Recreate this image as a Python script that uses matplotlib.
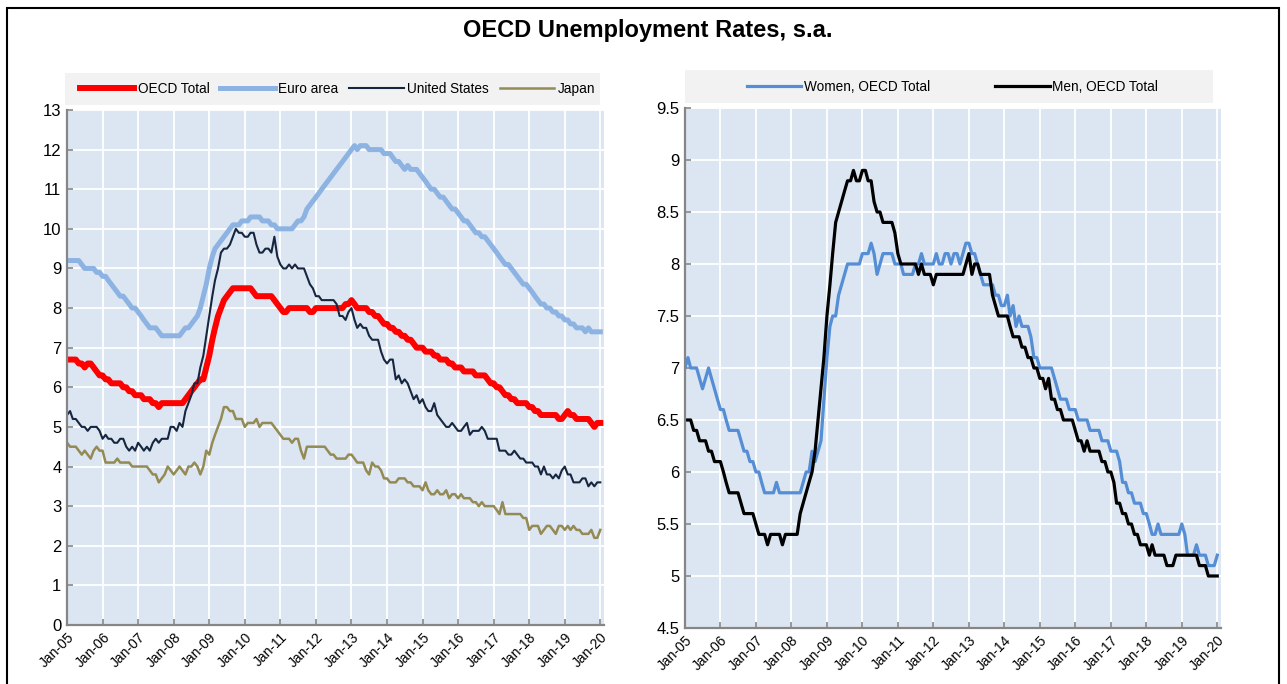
import numpy as np
import pandas as pd
import matplotlib
matplotlib.use("Agg")
import matplotlib.pyplot as plt
import matplotlib.dates as mdates
from matplotlib.patches import Rectangle

# --- data: monthly, Jan-05 .. Jan-20 ---
oecd_total = [
    6.7, 6.7, 6.7, 6.7, 6.6, 6.6, 6.5, 6.6, 6.6, 6.5, 6.4, 6.3,
    6.3, 6.2, 6.2, 6.1, 6.1, 6.1, 6.1, 6.0, 6.0, 5.9, 5.9, 5.8,
    5.8, 5.8, 5.7, 5.7, 5.7, 5.6, 5.6, 5.5, 5.6, 5.6, 5.6, 5.6,
    5.6, 5.6, 5.6, 5.6, 5.7, 5.8, 5.9, 6.0, 6.1, 6.2, 6.2, 6.5,
    6.8, 7.2, 7.5, 7.8, 8.0, 8.2, 8.3, 8.4, 8.5, 8.5, 8.5, 8.5,
    8.5, 8.5, 8.5, 8.4, 8.3, 8.3, 8.3, 8.3, 8.3, 8.3, 8.2, 8.1,
    8.0, 7.9, 7.9, 8.0, 8.0, 8.0, 8.0, 8.0, 8.0, 8.0, 7.9, 7.9,
    8.0, 8.0, 8.0, 8.0, 8.0, 8.0, 8.0, 8.0, 8.0, 8.0, 8.1, 8.1,
    8.2, 8.1, 8.0, 8.0, 8.0, 8.0, 7.9, 7.9, 7.8, 7.8, 7.7, 7.6,
    7.6, 7.5, 7.5, 7.4, 7.4, 7.3, 7.3, 7.2, 7.2, 7.1, 7.0, 7.0,
    7.0, 6.9, 6.9, 6.9, 6.8, 6.8, 6.7, 6.7, 6.7, 6.6, 6.6, 6.5,
    6.5, 6.5, 6.4, 6.4, 6.4, 6.4, 6.3, 6.3, 6.3, 6.3, 6.2, 6.1,
    6.1, 6.0, 6.0, 5.9, 5.8, 5.8, 5.7, 5.7, 5.6, 5.6, 5.6, 5.6,
    5.5, 5.5, 5.4, 5.4, 5.3, 5.3, 5.3, 5.3, 5.3, 5.3, 5.2, 5.2,
    5.3, 5.4, 5.3, 5.3, 5.2, 5.2, 5.2, 5.2, 5.2, 5.1, 5.0, 5.1,
    5.1,
]
euro_area = [
    9.2, 9.2, 9.2, 9.2, 9.2, 9.1, 9.0, 9.0, 9.0, 9.0, 8.9, 8.9,
    8.8, 8.8, 8.7, 8.6, 8.5, 8.4, 8.3, 8.3, 8.2, 8.1, 8.0, 8.0,
    7.9, 7.8, 7.7, 7.6, 7.5, 7.5, 7.5, 7.4, 7.3, 7.3, 7.3, 7.3,
    7.3, 7.3, 7.3, 7.4, 7.5, 7.5, 7.6, 7.7, 7.8, 8.0, 8.3, 8.6,
    9.0, 9.3, 9.5, 9.6, 9.7, 9.8, 9.9, 10.0, 10.1, 10.1, 10.1, 10.2,
    10.2, 10.2, 10.3, 10.3, 10.3, 10.3, 10.2, 10.2, 10.2, 10.1, 10.1, 10.0,
    10.0, 10.0, 10.0, 10.0, 10.0, 10.1, 10.2, 10.2, 10.3, 10.5, 10.6, 10.7,
    10.8, 10.9, 11.0, 11.1, 11.2, 11.3, 11.4, 11.5, 11.6, 11.7, 11.8, 11.9,
    12.0, 12.1, 12.0, 12.1, 12.1, 12.1, 12.0, 12.0, 12.0, 12.0, 12.0, 11.9,
    11.9, 11.9, 11.8, 11.7, 11.7, 11.6, 11.5, 11.6, 11.5, 11.5, 11.5, 11.4,
    11.3, 11.2, 11.1, 11.0, 11.0, 10.9, 10.8, 10.8, 10.7, 10.6, 10.5, 10.5,
    10.4, 10.3, 10.2, 10.2, 10.1, 10.0, 9.9, 9.9, 9.8, 9.8, 9.7, 9.6,
    9.5, 9.4, 9.3, 9.2, 9.1, 9.1, 9.0, 8.9, 8.8, 8.7, 8.6, 8.6,
    8.5, 8.4, 8.3, 8.2, 8.1, 8.1, 8.0, 8.0, 7.9, 7.9, 7.8, 7.8,
    7.7, 7.7, 7.6, 7.6, 7.5, 7.5, 7.5, 7.4, 7.5, 7.4, 7.4, 7.4,
    7.4,
]
united_states = [
    5.3, 5.4, 5.2, 5.2, 5.1, 5.0, 5.0, 4.9, 5.0, 5.0, 5.0, 4.9,
    4.7, 4.8, 4.7, 4.7, 4.6, 4.6, 4.7, 4.7, 4.5, 4.4, 4.5, 4.4,
    4.6, 4.5, 4.4, 4.5, 4.4, 4.6, 4.7, 4.6, 4.7, 4.7, 4.7, 5.0,
    5.0, 4.9, 5.1, 5.0, 5.4, 5.6, 5.8, 6.1, 6.1, 6.5, 6.8, 7.3,
    7.8, 8.3, 8.7, 9.0, 9.4, 9.5, 9.5, 9.6, 9.8, 10.0, 9.9, 9.9,
    9.8, 9.8, 9.9, 9.9, 9.6, 9.4, 9.4, 9.5, 9.5, 9.4, 9.8, 9.3,
    9.1, 9.0, 9.0, 9.1, 9.0, 9.1, 9.0, 9.0, 9.0, 8.8, 8.6, 8.5,
    8.3, 8.3, 8.2, 8.2, 8.2, 8.2, 8.2, 8.1, 7.8, 7.8, 7.7, 7.9,
    8.0, 7.7, 7.5, 7.6, 7.5, 7.5, 7.3, 7.2, 7.2, 7.2, 6.9, 6.7,
    6.6, 6.7, 6.7, 6.2, 6.3, 6.1, 6.2, 6.1, 5.9, 5.7, 5.8, 5.6,
    5.7, 5.5, 5.4, 5.4, 5.6, 5.3, 5.2, 5.1, 5.0, 5.0, 5.1, 5.0,
    4.9, 4.9, 5.0, 5.1, 4.8, 4.9, 4.9, 4.9, 5.0, 4.9, 4.7, 4.7,
    4.7, 4.7, 4.4, 4.4, 4.4, 4.3, 4.3, 4.4, 4.3, 4.2, 4.2, 4.1,
    4.1, 4.1, 4.0, 4.0, 3.8, 4.0, 3.8, 3.8, 3.7, 3.8, 3.7, 3.9,
    4.0, 3.8, 3.8, 3.6, 3.6, 3.6, 3.7, 3.7, 3.5, 3.6, 3.5, 3.6,
    3.6,
]
japan = [
    4.6, 4.5, 4.5, 4.5, 4.4, 4.3, 4.4, 4.3, 4.2, 4.4, 4.5, 4.4,
    4.4, 4.1, 4.1, 4.1, 4.1, 4.2, 4.1, 4.1, 4.1, 4.1, 4.0, 4.0,
    4.0, 4.0, 4.0, 4.0, 3.9, 3.8, 3.8, 3.6, 3.7, 3.8, 4.0, 3.9,
    3.8, 3.9, 4.0, 3.9, 3.8, 4.0, 4.0, 4.1, 4.0, 3.8, 4.0, 4.4,
    4.3, 4.6, 4.8, 5.0, 5.2, 5.5, 5.5, 5.4, 5.4, 5.2, 5.2, 5.2,
    5.0, 5.1, 5.1, 5.1, 5.2, 5.0, 5.1, 5.1, 5.1, 5.1, 5.0, 4.9,
    4.8, 4.7, 4.7, 4.7, 4.6, 4.7, 4.7, 4.4, 4.2, 4.5, 4.5, 4.5,
    4.5, 4.5, 4.5, 4.5, 4.4, 4.3, 4.3, 4.2, 4.2, 4.2, 4.2, 4.3,
    4.3, 4.2, 4.1, 4.1, 4.1, 3.9, 3.8, 4.1, 4.0, 4.0, 3.9, 3.7,
    3.7, 3.6, 3.6, 3.6, 3.7, 3.7, 3.7, 3.6, 3.6, 3.5, 3.5, 3.5,
    3.4, 3.6, 3.4, 3.3, 3.3, 3.4, 3.3, 3.3, 3.4, 3.2, 3.3, 3.3,
    3.2, 3.3, 3.2, 3.2, 3.2, 3.1, 3.1, 3.0, 3.1, 3.0, 3.0, 3.0,
    3.0, 2.9, 2.8, 3.1, 2.8, 2.8, 2.8, 2.8, 2.8, 2.8, 2.7, 2.7,
    2.4, 2.5, 2.5, 2.5, 2.3, 2.4, 2.5, 2.5, 2.4, 2.3, 2.5, 2.5,
    2.4, 2.5, 2.4, 2.5, 2.4, 2.4, 2.3, 2.3, 2.3, 2.4, 2.2, 2.2,
    2.4,
]
women_oecd = [
    7.0, 7.1, 7.0, 7.0, 7.0, 6.9, 6.8, 6.9, 7.0, 6.9, 6.8, 6.7,
    6.6, 6.6, 6.5, 6.4, 6.4, 6.4, 6.4, 6.3, 6.2, 6.2, 6.1, 6.1,
    6.0, 6.0, 5.9, 5.8, 5.8, 5.8, 5.8, 5.9, 5.8, 5.8, 5.8, 5.8,
    5.8, 5.8, 5.8, 5.8, 5.9, 6.0, 6.0, 6.2, 6.1, 6.2, 6.3, 6.7,
    7.1, 7.4, 7.5, 7.5, 7.7, 7.8, 7.9, 8.0, 8.0, 8.0, 8.0, 8.0,
    8.1, 8.1, 8.1, 8.2, 8.1, 7.9, 8.0, 8.1, 8.1, 8.1, 8.1, 8.0,
    8.0, 8.0, 7.9, 7.9, 7.9, 7.9, 8.0, 8.0, 8.1, 8.0, 8.0, 8.0,
    8.0, 8.1, 8.0, 8.0, 8.1, 8.1, 8.0, 8.1, 8.1, 8.0, 8.1, 8.2,
    8.2, 8.1, 8.1, 8.0, 7.9, 7.8, 7.8, 7.8, 7.8, 7.7, 7.7, 7.6,
    7.6, 7.7, 7.5, 7.6, 7.4, 7.5, 7.4, 7.4, 7.4, 7.3, 7.1, 7.1,
    7.0, 7.0, 7.0, 7.0, 7.0, 6.9, 6.8, 6.7, 6.7, 6.7, 6.6, 6.6,
    6.6, 6.5, 6.5, 6.5, 6.5, 6.4, 6.4, 6.4, 6.4, 6.3, 6.3, 6.3,
    6.2, 6.2, 6.2, 6.1, 5.9, 5.9, 5.8, 5.8, 5.7, 5.7, 5.7, 5.6,
    5.6, 5.5, 5.4, 5.4, 5.5, 5.4, 5.4, 5.4, 5.4, 5.4, 5.4, 5.4,
    5.5, 5.4, 5.2, 5.2, 5.2, 5.3, 5.2, 5.2, 5.2, 5.1, 5.1, 5.1,
    5.2,
]
men_oecd = [
    6.5, 6.5, 6.5, 6.4, 6.4, 6.3, 6.3, 6.3, 6.2, 6.2, 6.1, 6.1,
    6.1, 6.0, 5.9, 5.8, 5.8, 5.8, 5.8, 5.7, 5.6, 5.6, 5.6, 5.6,
    5.5, 5.4, 5.4, 5.4, 5.3, 5.4, 5.4, 5.4, 5.4, 5.3, 5.4, 5.4,
    5.4, 5.4, 5.4, 5.6, 5.7, 5.8, 5.9, 6.0, 6.2, 6.5, 6.8, 7.1,
    7.5, 7.8, 8.1, 8.4, 8.5, 8.6, 8.7, 8.8, 8.8, 8.9, 8.8, 8.8,
    8.9, 8.9, 8.8, 8.8, 8.6, 8.5, 8.5, 8.4, 8.4, 8.4, 8.4, 8.3,
    8.1, 8.0, 8.0, 8.0, 8.0, 8.0, 8.0, 7.9, 8.0, 7.9, 7.9, 7.9,
    7.8, 7.9, 7.9, 7.9, 7.9, 7.9, 7.9, 7.9, 7.9, 7.9, 7.9, 8.0,
    8.1, 7.9, 8.0, 8.0, 7.9, 7.9, 7.9, 7.9, 7.7, 7.6, 7.5, 7.5,
    7.5, 7.5, 7.4, 7.3, 7.3, 7.3, 7.2, 7.2, 7.1, 7.1, 7.0, 7.0,
    6.9, 6.9, 6.8, 6.9, 6.7, 6.7, 6.6, 6.6, 6.5, 6.5, 6.5, 6.5,
    6.4, 6.3, 6.3, 6.2, 6.3, 6.2, 6.2, 6.2, 6.2, 6.1, 6.1, 6.0,
    6.0, 5.9, 5.7, 5.7, 5.6, 5.6, 5.5, 5.5, 5.4, 5.4, 5.3, 5.3,
    5.3, 5.2, 5.3, 5.2, 5.2, 5.2, 5.2, 5.1, 5.1, 5.1, 5.2, 5.2,
    5.2, 5.2, 5.2, 5.2, 5.2, 5.2, 5.1, 5.1, 5.1, 5.0, 5.0, 5.0,
    5.0,
]
dates = pd.date_range("2005-01-01", "2020-01-01", freq="MS")
year_ticks = pd.date_range("2005-01-01", "2020-01-01", freq="YS")

# --- style ---
narrow = ["Liberation Sans Narrow", "Liberation Sans", "DejaVu Sans"]
plt.rcParams["font.family"] = narrow
bg = "#dce6f2"
axis_grey = "#868686"

fig = plt.figure(figsize=(12.87, 6.84), dpi=100)
fig.patch.set_facecolor("white")

ax1 = fig.add_axes([0.0521, 0.0863, 0.4172, 0.7529])
ax2 = fig.add_axes([0.5322, 0.0819, 0.4165, 0.7602])


def style_axes(ax, ylim, yticks, ylabels):
    ax.set_facecolor(bg)
    ax.set_xlim(pd.Timestamp("2005-01-01"), pd.Timestamp("2020-02-08"))
    ax.set_ylim(*ylim)
    ax.set_yticks(yticks)
    ax.set_yticklabels(ylabels, fontsize=12)
    ax.set_xticks(year_ticks)
    ax.xaxis.set_major_formatter(mdates.DateFormatter("Jan-%y"))
    for lab in ax.get_xticklabels():
        lab.set_rotation(45)
        lab.set_ha("right")
        lab.set_rotation_mode("anchor")
        lab.set_fontsize(10)
    ax.grid(True, color="white", lw=1.3)
    ax.set_axisbelow(True)
    for side in ["top", "right"]:
        ax.spines[side].set_visible(False)
    for side in ["left", "bottom"]:
        ax.spines[side].set_color(axis_grey)
        ax.spines[side].set_linewidth(1.6)
    ax.tick_params(direction="in", length=4, width=1.2, color=axis_grey, pad=4)


# left panel
ax1.plot(dates, oecd_total, color="#ff0000", lw=4.3, label="OECD Total", solid_joinstyle="round")
ax1.plot(dates, euro_area, color="#8db3e2", lw=3.6, label="Euro area", solid_joinstyle="round")
ax1.plot(dates, united_states, color="#17263f", lw=1.5, label="United States")
ax1.plot(dates, japan, color="#948a54", lw=1.8, label="Japan")
style_axes(ax1, (0, 13), range(0, 14), [str(v) for v in range(0, 14)])

# right panel
ax2.plot(dates, women_oecd, color="#558ed5", lw=2.3, label="Women, OECD Total")
ax2.plot(dates, men_oecd, color="#000000", lw=2.3, label="Men, OECD Total")
rticks = np.arange(4.5, 9.51, 0.5)
style_axes(ax2, (4.5, 9.5), rticks, [f"{v:g}" for v in rticks])

# legend boxes
fig.patches.append(Rectangle((0.0505, 0.8465), 0.4157, 0.0468, transform=fig.transFigure,
                             facecolor="#f2f2f2", edgecolor="none", zorder=0))
fig.patches.append(Rectangle((0.5322, 0.8494), 0.4103, 0.0482, transform=fig.transFigure,
                             facecolor="#f2f2f2", edgecolor="none", zorder=0))
h1, l1 = ax1.get_legend_handles_labels()
fig.legend(h1, l1, loc="center", bbox_to_anchor=(0.2622, 0.8699), ncol=4, frameon=False,
           fontsize=9.8, handlelength=4.0, handletextpad=0.25, columnspacing=0.8)
h2, l2 = ax2.get_legend_handles_labels()
fig.legend(h2, l2, loc="center", bbox_to_anchor=(0.7401, 0.8735), ncol=2, frameon=False,
           fontsize=9.8, handlelength=4.0, handletextpad=0.2, columnspacing=4.8)

fig.text(0.503, 0.955, "OECD Unemployment Rates, s.a.", ha="center", va="center",
         fontsize=17, fontweight="bold", family=["Liberation Sans", "DejaVu Sans"])

# outer frame
fig.patches.append(Rectangle((7 / 1287, -0.02), 1272 / 1287, 1 - 8 / 684 + 0.02,
                             transform=fig.transFigure, fill=False, edgecolor="black", lw=1.5))

fig.savefig("out.png", dpi=100)
